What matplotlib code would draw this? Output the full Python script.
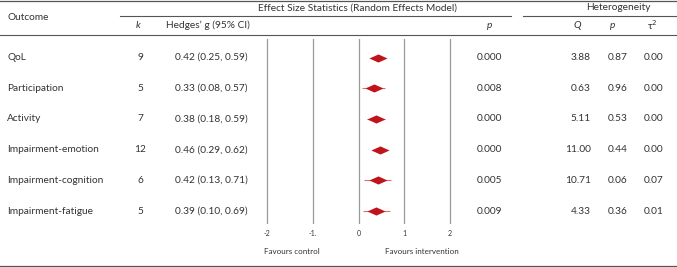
import matplotlib
matplotlib.use("Agg")
import matplotlib.pyplot as plt
from matplotlib.path import Path

plt.rcParams['font.family'] = ['Lato', 'DejaVu Sans']

outcomes = ["QoL", "Participation", "Activity", "Impairment-emotion",
            "Impairment-cognition", "Impairment-fatigue"]
k_vals = [9, 5, 7, 12, 6, 5]
g_vals = [0.42, 0.33, 0.38, 0.46, 0.42, 0.39]
ci_low = [0.25, 0.08, 0.18, 0.29, 0.13, 0.10]
ci_high = [0.59, 0.57, 0.59, 0.62, 0.71, 0.69]
p_vals = ["0.000", "0.008", "0.000", "0.000", "0.005", "0.009"]
q_vals = ["3.88", "0.63", "5.11", "11.00", "10.71", "4.33"]
p_het = ["0.87", "0.96", "0.53", "0.44", "0.06", "0.36"]
tau2 = ["0.00", "0.00", "0.00", "0.00", "0.07", "0.01"]
x_ticks = [-2, -1, 0, 1, 2]
x_ticklabels = ["-2", "-1.", "0", "1", "2"]

W, H = 677, 267
fig = plt.figure(figsize=(W / 100, H / 100), dpi=100)

# background axes in pixel coordinates
bg = fig.add_axes([0, 0, 1, 1])
bg.set_xlim(0, W)
bg.set_ylim(H, 0)
bg.axis("off")

lc = "#555555"
bg.plot([0, W], [1, 1], color=lc, lw=0.9)
bg.plot([120, 511], [16, 16], color=lc, lw=0.8)
bg.plot([523, W], [16, 16], color=lc, lw=0.8)
bg.plot([0, W], [34.5, 34.5], color=lc, lw=0.8)
bg.plot([0, W], [265.5, 265.5], color=lc, lw=0.9)

fs = 7.3
tc = "#333333"
bg.text(7, 18, "Outcome", fontsize=fs, color=tc, va="center", ha="left")
bg.text(358, 8, "Effect Size Statistics (Random Effects Model)", fontsize=fs,
        color=tc, va="center", ha="center")
bg.text(618, 8, "Heterogeneity", fontsize=fs, color=tc, va="center", ha="center")
bg.text(138, 25, "k", fontsize=fs, color=tc, va="center", ha="center", style="italic")
bg.text(166, 25, "Hedges\u2019 g (95% CI)", fontsize=fs, color=tc, va="center", ha="left")
bg.text(490, 25, "p", fontsize=fs, color=tc, va="center", ha="center", style="italic")
bg.text(577, 25, "Q", fontsize=fs, color=tc, va="center", ha="center", style="italic")
bg.text(613, 25, "p", fontsize=fs, color=tc, va="center", ha="center", style="italic")
bg.text(652, 25, "\u03c4$^2$", fontsize=fs, color=tc, va="center", ha="center")

row_y0, row_dy = 57.5, 30.7
for i in range(len(outcomes)):
    y = row_y0 + i * row_dy
    bg.text(7, y, outcomes[i], fontsize=fs, color=tc, va="center", ha="left")
    bg.text(140, y, str(k_vals[i]), fontsize=fs, color=tc, va="center", ha="center")
    bg.text(175, y, f"{g_vals[i]:.2f} ({ci_low[i]:.2f}, {ci_high[i]:.2f})",
            fontsize=fs, color=tc, va="center", ha="left")
    bg.text(477, y, p_vals[i], fontsize=fs, color=tc, va="center", ha="left")
    bg.text(591, y, q_vals[i], fontsize=fs, color=tc, va="center", ha="right")
    bg.text(608, y, p_het[i], fontsize=fs, color=tc, va="center", ha="left")
    bg.text(644, y, tau2[i], fontsize=fs, color=tc, va="center", ha="left")

# forest axes
upx = 45.75
x0px = 358.5
xmin, xmax = -2.2, 2.2
left = x0px + xmin * upx
width = (xmax - xmin) * upx
top_px, bot_px = 39, 224
ax = fig.add_axes([left / W, 1 - bot_px / H, width / W, (bot_px - top_px) / H])
ax.set_xlim(xmin, xmax)
ymin_d = (top_px - row_y0) / row_dy
ymax_d = (bot_px - row_y0) / row_dy
ax.set_ylim(ymax_d, ymin_d)
ax.patch.set_alpha(0)
for s in ax.spines.values():
    s.set_visible(False)
ax.set_yticks([])
ax.set_xticks(x_ticks)
ax.set_xticklabels(x_ticklabels, fontsize=5, color=tc)
ax.tick_params(axis="x", length=0, pad=4.5)
for xt in x_ticks:
    ax.axvline(xt, color="#9a9a9a", lw=0.9, zorder=0)

diamond = Path([(-1, 0), (0, 0.45), (1, 0), (0, -0.45), (-1, 0)],
               [Path.MOVETO, Path.LINETO, Path.LINETO, Path.LINETO, Path.CLOSEPOLY])
rows = list(range(len(outcomes)))
ax.hlines(rows, ci_low, ci_high, color="#e07070", lw=0.8, zorder=2)
ax.plot(g_vals, rows, linestyle="none", marker=diamond, markersize=13,
        color="#c0141c", markeredgewidth=0, zorder=3)

bg.text(292, 251, "Favours control", fontsize=5.8, color=tc, va="center", ha="center")
bg.text(422, 251, "Favours intervention", fontsize=5.8, color=tc, va="center", ha="center")

fig.savefig("out.png", dpi=100)
